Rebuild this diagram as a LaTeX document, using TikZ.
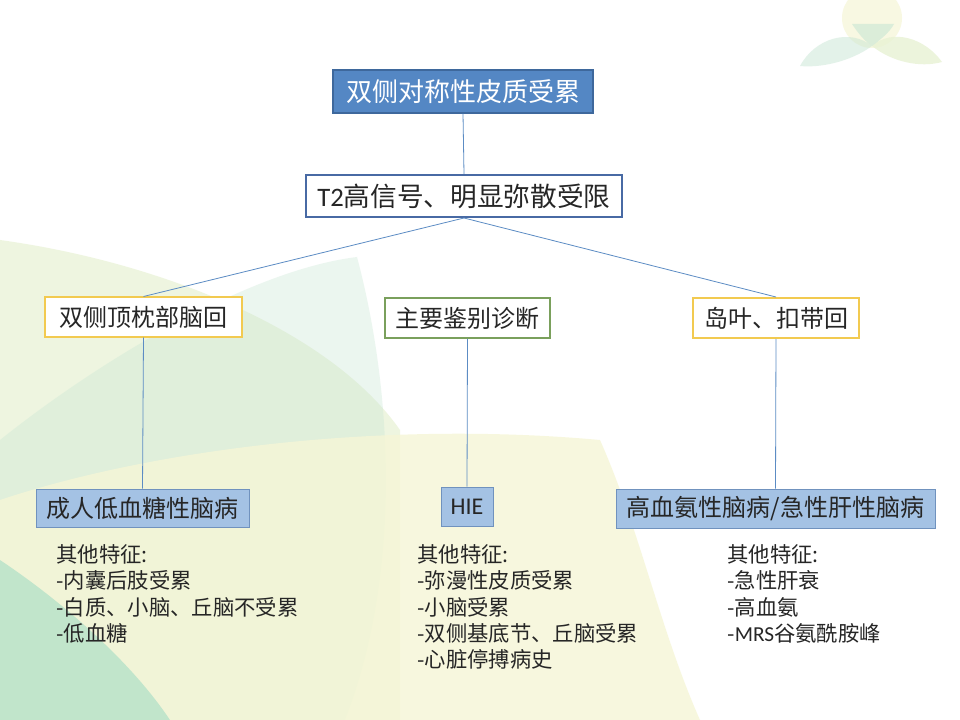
\documentclass[tikz,border=0pt]{standalone}
\usepackage{fontspec}
\setmainfont{Carlito}
\newfontfamily\cjk{Noto Sans CJK SC}
\definecolor{topblue}{RGB}{84,135,196}
\definecolor{topedge}{RGB}{62,104,156}
\definecolor{darkedge}{RGB}{72,106,164}
\definecolor{goldedge}{RGB}{242,202,80}
\definecolor{leafedge}{RGB}{122,160,92}
\definecolor{paleblue}{RGB}{164,194,228}
\definecolor{paleedge}{RGB}{112,146,190}
\definecolor{linkblue}{RGB}{92,140,196}
\definecolor{inkgray}{RGB}{38,38,38}
\definecolor{bgmint}{RGB}{200,230,212}
\definecolor{bgpale}{RGB}{232,242,212}
\definecolor{bgcream}{RGB}{246,246,214}
\definecolor{bgdeep}{RGB}{178,224,200}
\begin{document}
\begin{tikzpicture}[x=0.75pt, y=-0.75pt, line width=0.6pt,
  box/.style={rectangle, inner sep=0pt, text=inkgray, font=\fontsize{18}{22}\selectfont},
  headbox/.style={box, fill=topblue, draw=topedge, line width=0.8pt, text=white, font=\fontsize{19.5}{24}\selectfont},
  keybox/.style={box, fill=white, draw=darkedge, line width=1.5pt, font=\fontsize{20}{24}\selectfont},
  goldbox/.style={box, fill=white, draw=goldedge, line width=1.5pt},
  leafbox/.style={box, fill=white, draw=leafedge, line width=1.2pt},
  dxbox/.style={box, fill=paleblue, draw=paleedge, line width=0.6pt},
  notes/.style={inner sep=0pt, anchor=north west, align=left, text=inkgray, font=\cjk\fontsize{16}{19.75}\selectfont},
  link/.style={draw=linkblue, line width=0.6pt}]
  \useasboundingbox (0,0) rectangle (960,720);
  \fill[white] (0,0) rectangle (960,720);
  % background leaves
  \fill[bgpale, opacity=0.7] (0,240) .. controls (160,262) and (330,330) .. (400,430) -- (400,720) -- (0,720) -- cycle;
  \fill[bgmint, opacity=0.35] (0,440) .. controls (100,360) and (250,270) .. (357,257) .. controls (395,400) and (400,580) .. (345,720) -- (0,720) -- cycle;
  \fill[bgcream, opacity=0.8] (0,500) .. controls (150,450) and (380,420) .. (600,440) .. controls (640,530) and (660,630) .. (700,720) -- (0,720) -- cycle;
  \fill[bgdeep, opacity=0.75] (0,560) .. controls (60,600) and (130,660) .. (170,720) -- (0,720) -- cycle;
  % corner logo
  \fill[bgcream, opacity=0.7] (872,18) circle (30);
  \fill[bgmint, opacity=0.5] (800,66) .. controls (815,38) and (850,28) .. (872,46) .. controls (850,62) and (820,68) .. (800,66) -- cycle;
  \fill[bgpale, opacity=0.8] (942,62) .. controls (925,38) and (892,28) .. (872,46) .. controls (892,62) and (920,68) .. (942,62) -- cycle;
  \fill[bgmint, opacity=0.6] (852,24) .. controls (860,36) and (866,42) .. (872,46) .. controls (880,40) and (890,32) .. (894,24) -- cycle;
  % boxes
  \node[headbox, minimum width=195pt, minimum height=32.25pt] (cortex) at (463,91.5) {\cjk 双侧对称性皮质受累};
  \node[keybox, minimum width=237pt, minimum height=31.5pt] (signal) at (464,196) {T2{\cjk 高信号、明显弥散受限}};
  \node[goldbox, minimum width=147.75pt, minimum height=29.25pt] (occip) at (143.5,317) {\cjk 双侧顶枕部脑回};
  \node[leafbox, minimum width=123.75pt, minimum height=30pt] (diff) at (467.5,318) {\cjk 主要鉴别诊断};
  \node[goldbox, minimum width=124.5pt, minimum height=30pt] (insula) at (776,318) {\cjk 岛叶、扣带回};
  \node[dxbox, minimum width=159.75pt, minimum height=28.5pt] (hypog) at (142.5,508) {\cjk 成人低血糖性脑病};
  \node[dxbox, minimum width=39pt, minimum height=29.25pt] (hie) at (467,506.5) {HIE};
  \node[dxbox, minimum width=239.25pt, minimum height=29.25pt] (hyperam) at (775.5,508.5) {\cjk 高血氨性脑病/急性肝性脑病};
  % connectors
  \path[link] (cortex.south) -- (signal.north);
  \path[link] (signal.south) -- (occip.north);
  \path[link] (signal.south) -- (insula.north);
  \path[link] (occip.south) -- (hypog.north);
  \path[link] (diff.south) -- (hie.north);
  \path[link] (insula.south) -- (hyperam.north);
  % other features
  \node[notes] (hypognote) at (56,544) {其他特征:\\-内囊后肢受累\\-白质、小脑、丘脑不受累\\-低血糖};
  \node[notes] (hienote) at (417,544) {其他特征:\\-弥漫性皮质受累\\-小脑受累\\-双侧基底节、丘脑受累\\-心脏停搏病史};
  \node[notes] (hyperamnote) at (727,544) {其他特征:\\-急性肝衰\\-高血氨\\-{\rmfamily MRS}谷氨酰胺峰};
\end{tikzpicture}
\end{document}
